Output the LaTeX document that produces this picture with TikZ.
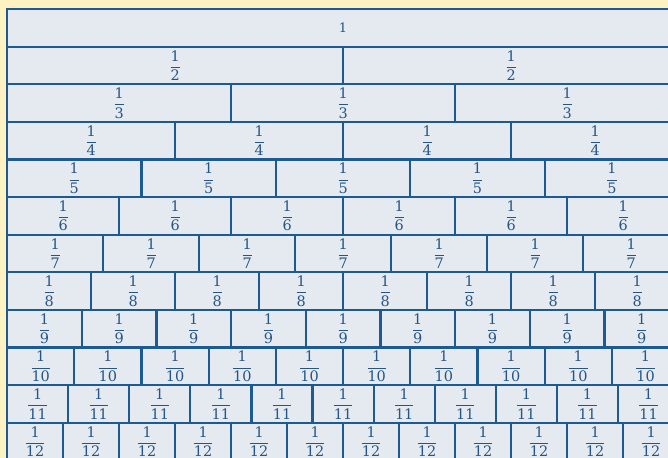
\documentclass[tikz,border=0pt]{standalone}
\usepackage{amsmath}
\usepackage{fontspec}
\setmainfont{DejaVu Serif}
\usetikzlibrary{positioning}
\definecolor{bgyellow}{HTML}{FCF2C2}
\definecolor{cellfill}{HTML}{E5EAF0}
\definecolor{cellline}{HTML}{1D5A92}
\definecolor{celltext}{HTML}{245586}

\begin{document}
\begin{tikzpicture}[
  x=1bp, y=-1bp,
  font=\fontsize{14.5}{16}\selectfont,
  part/.style={draw=cellline, fill=cellfill, text=celltext, line width=2.2bp,
    inner sep=0pt, minimum height=37.6bp, anchor=north west}
]
\useasboundingbox (0,0) rectangle (668,458);
\fill[bgyellow] (0,0) rectangle (668,458);
\clip (0,0) rectangle (668,458);

% whole bar
\node[part, minimum width=672bp, font=\fontsize{13}{15}\selectfont] (p-1-1) at (6,8) {1};

% unit fractions, one row per denominator
\foreach \n in {2,...,12}{
  \foreach \k in {1,...,\n}{
    \node[part, minimum width=672bp/\n] (p-\n-\k)
      at ({6+(\k-1)*672/\n}, {8+(\n-1)*37.6}) {$\dfrac{\text{1}}{\text{\n}}$};
  }
}
\end{tikzpicture}
\end{document}
